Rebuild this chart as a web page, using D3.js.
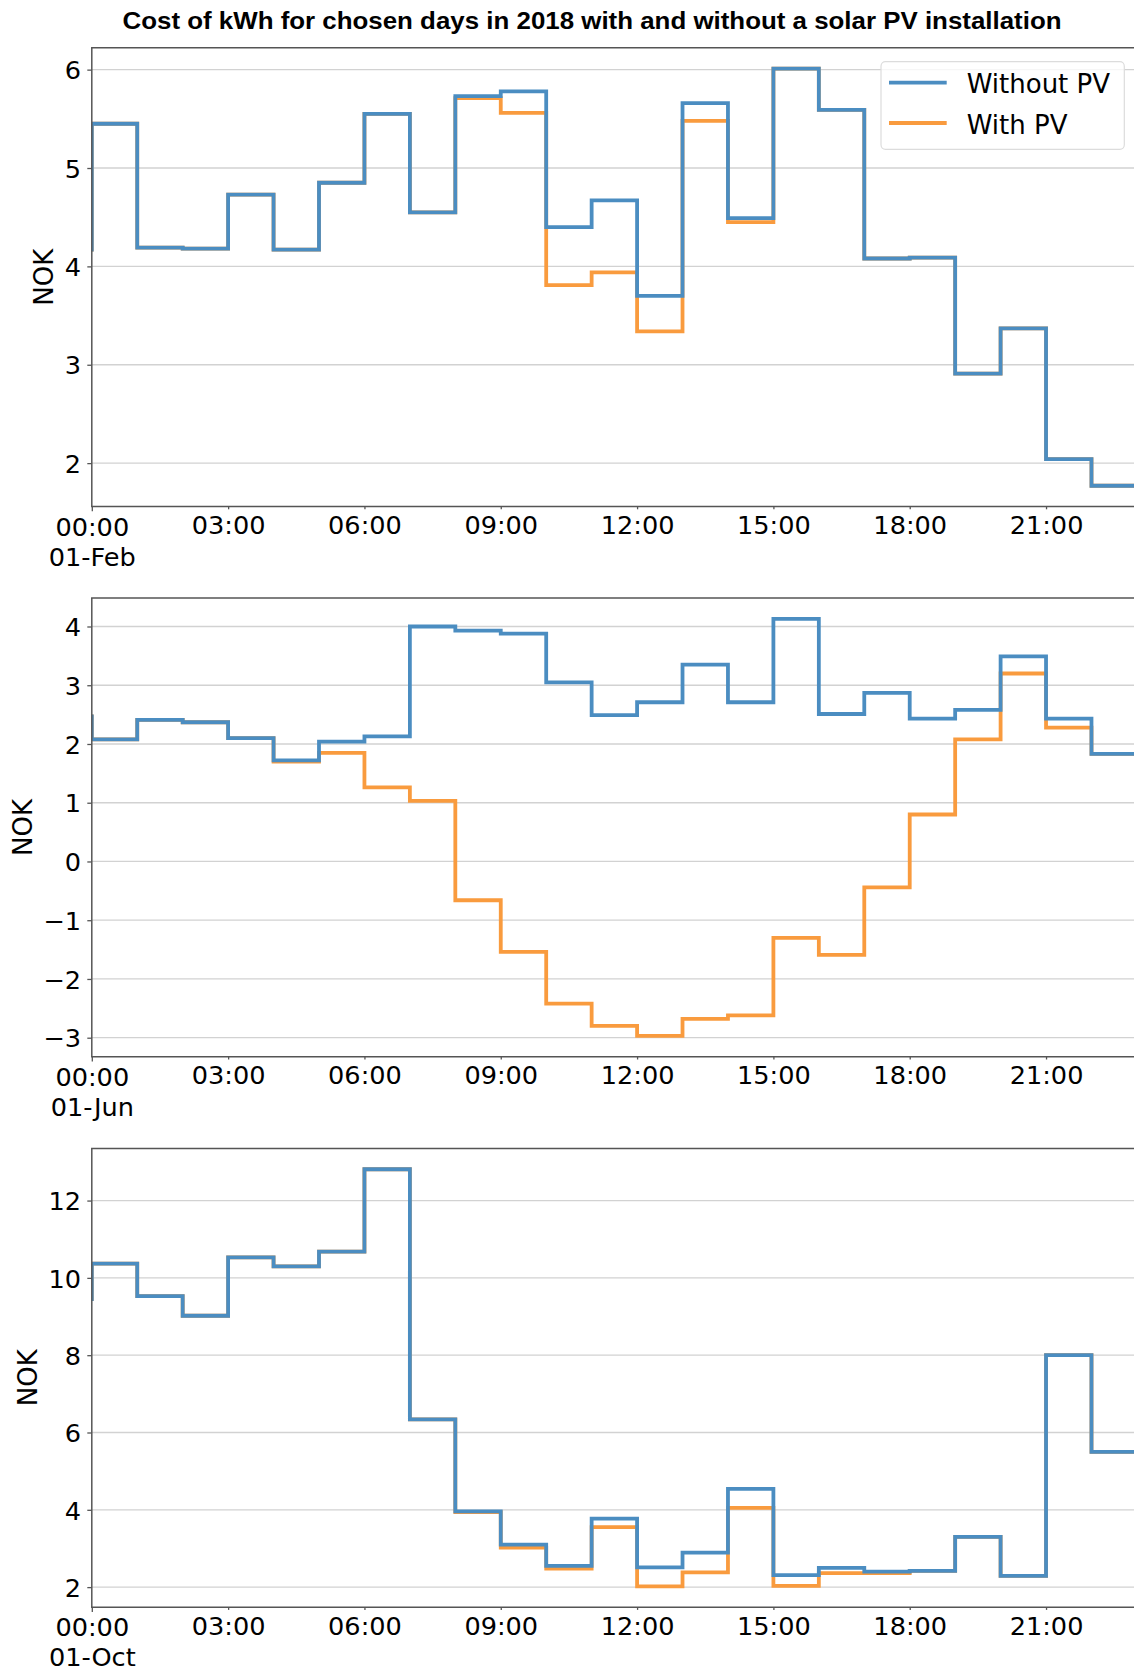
<!DOCTYPE html>
<html><head><meta charset="utf-8">
<script src="https://cdn.jsdelivr.net/npm/d3@7"></script>
<style>body{margin:0;background:#fff} svg{display:block}</style>
</head><body>
<svg id="chart" width="1134" height="1672"></svg>
<script>
// ---------- data ----------
const title = "Cost of kWh for chosen days in 2018 with and without a solar PV installation";
const seriesNames = ["Without PV", "With PV"];
const hours = [0,1,2,3,4,5,6,7,8,9,10,11,12,13,14,15,16,17,18,19,20,21,22,23];
const tickHours = [0,3,6,9,12,15,18,21];
const tickLabels = ["00:00","03:00","06:00","09:00","12:00","15:00","18:00","21:00"];
const dayLabels = ["01-Feb","01-Jun","01-Oct"];
const yLabel = "NOK";

const febWithout = [4.15,5.45,4.19,4.18,4.73,4.17,4.85,5.55,4.55,5.73,5.78,4.40,4.67,3.70,5.66,4.49,6.01,5.59,4.08,4.09,2.91,3.37,2.04,1.77];
const febWith    = [4.15,5.45,4.19,4.18,4.73,4.17,4.85,5.55,4.55,5.71,5.56,3.81,3.94,3.34,5.48,4.45,6.01,5.59,4.08,4.09,2.91,3.37,2.04,1.77];
const junWithout = [2.50,2.08,2.41,2.37,2.10,1.72,2.04,2.13,4.00,3.93,3.88,3.05,2.49,2.71,3.35,2.71,4.13,2.51,2.87,2.43,2.58,3.49,2.43,1.83];
const junWith    = [2.50,2.08,2.41,2.37,2.10,1.70,1.85,1.26,1.03,-0.66,-1.54,-2.42,-2.80,-2.97,-2.68,-2.62,-1.30,-1.59,-0.44,0.80,2.08,3.20,2.28,1.83];
const octWithout = [9.40,10.37,9.53,9.02,10.53,10.30,10.68,12.81,6.34,3.96,3.10,2.55,3.77,2.51,2.89,4.54,2.31,2.50,2.40,2.42,3.30,2.29,8.00,5.50];
const octWith    = [9.40,10.37,9.53,9.02,10.53,10.30,10.68,12.81,6.34,3.94,3.02,2.48,3.55,2.02,2.38,4.05,2.03,2.36,2.36,2.42,3.30,2.29,8.00,5.50];

const febYTicks = [2,3,4,5,6];
const junYTicks = [-3,-2,-1,0,1,2,3,4];
const octYTicks = [2,4,6,8,10,12];

// ---------- layout / style ----------
const svg = d3.select("#chart");
const FONT = "'DejaVu Sans', sans-serif";
const left = 91.8, hourPx = 45.44;
const right = left + (hours[hours.length-1]-hours[0]) * hourPx;
const tops = [47.8, 598, 1148.4], H = 458.8;
const colWithout = "#4b8dc1", colWith = "#f99b3e";
const spineCol = "#555";

svg.append("text").attr("x", 592).attr("y", 29).attr("text-anchor","middle")
  .attr("font-family","'Liberation Sans', Arial, sans-serif").attr("font-weight","bold")
  .attr("font-size", 24).attr("textLength", 939).attr("lengthAdjust", "spacingAndGlyphs")
  .attr("fill","#000").text(title);

const panels = [
  {day: dayLabels[0], without: febWithout, with: febWith, ticks: febYTicks},
  {day: dayLabels[1], without: junWithout, with: junWith, ticks: junYTicks},
  {day: dayLabels[2], without: octWithout, with: octWith, ticks: octYTicks}
];
const defs = svg.append("defs");

panels.forEach((p, i) => {
  const top = tops[i], bottom = top + H;
  const x = d3.scaleLinear().domain([hours[0], hours[hours.length-1]]).range([left, right]);
  const all = p.without.concat(p.with);
  const mn = d3.min(all), mx = d3.max(all), pad = (mx - mn) * 0.05;
  const y = d3.scaleLinear().domain([mn - pad, mx + pad]).range([bottom, top]);
  const g = svg.append("g");

  defs.append("clipPath").attr("id", "clip" + i).append("rect")
    .attr("x", left).attr("y", top).attr("width", right - left).attr("height", H);

  // grid
  g.append("g").selectAll("line").data(p.ticks).join("line")
    .attr("x1", left).attr("x2", right).attr("y1", d => y(d)).attr("y2", d => y(d))
    .attr("stroke", "#d2d2d2").attr("stroke-width", 1.3);

  // lines
  const line = d3.line().x((d, j) => x(hours[j])).y(d => y(d)).curve(d3.curveStepBefore);
  const lg = g.append("g").attr("clip-path", `url(#clip${i})`);
  lg.append("path").attr("d", line(p.with)).attr("fill","none")
    .attr("stroke", colWith).attr("stroke-width", 3.8);
  lg.append("path").attr("d", line(p.without)).attr("fill","none")
    .attr("stroke", colWithout).attr("stroke-width", 3.8);

  // y axis
  const ya = d3.axisLeft(y).tickValues(p.ticks).tickSize(4.5).tickPadding(6.3)
    .tickFormat(d => d < 0 ? "\u2212" + Math.abs(d) : String(d));
  const yg = g.append("g").attr("transform", `translate(${left},0)`).call(ya);
  yg.select(".domain").remove();
  yg.selectAll(".tick line").attr("stroke", spineCol).attr("stroke-width", 1.3);
  yg.selectAll(".tick text").attr("font-family", FONT).attr("font-size", 25.6)
    .attr("fill", "#000").attr("dy", "0.36em");

  // x axis
  const xa = d3.axisBottom(x).tickValues(tickHours).tickSize(2.7)
    .tickFormat((d, j) => tickLabels[j]);
  const xg = g.append("g").attr("transform", `translate(0,${bottom})`).call(xa);
  xg.select(".domain").remove();
  xg.selectAll(".tick line").attr("stroke", spineCol).attr("stroke-width", 1.3)
    .attr("y2", (d, j) => j === 0 ? 4.7 : 2.7);
  xg.selectAll(".tick text").attr("font-family", FONT).attr("font-size", 25.6)
    .attr("fill", "#000").attr("dy", 0).attr("y", (d, j) => j === 0 ? 29.3 : 27.6);
  xg.select(".tick").append("text").attr("font-family", FONT).attr("font-size", 25.6)
    .attr("fill", "#000").attr("text-anchor", "middle").attr("y", 59.2).text(p.day);

  // spines
  g.append("line").attr("x1", left).attr("x2", left).attr("y1", top).attr("y2", bottom)
    .attr("stroke", spineCol).attr("stroke-width", 1.5);
  g.append("line").attr("x1", left - 0.75).attr("x2", right).attr("y1", top).attr("y2", top)
    .attr("stroke", spineCol).attr("stroke-width", 1.5);
  g.append("line").attr("x1", left - 0.75).attr("x2", right).attr("y1", bottom).attr("y2", bottom)
    .attr("stroke", spineCol).attr("stroke-width", 1.5);

  // y label
  const bb = yg.node().getBBox();
  const lx = left + bb.x - 11.5;
  g.append("text").attr("transform", `translate(${lx},${(top + bottom) / 2}) rotate(-90)`)
    .attr("text-anchor", "middle").attr("font-family", FONT).attr("font-size", 26)
    .attr("fill", "#000").text(yLabel);

  // legend (first panel only)
  if (i === 0) {
    const lgd = svg.append("g");
    lgd.append("rect").attr("x", 881).attr("y", 61.7).attr("width", 243.3).attr("height", 87.6)
      .attr("rx", 4.5).attr("fill", "#fff").attr("fill-opacity", 0.8)
      .attr("stroke", "#dcdcdc").attr("stroke-width", 1.2);
    const items = [{name: seriesNames[0], c: colWithout}, {name: seriesNames[1], c: colWith}];
    items.forEach((it, k) => {
      const cy = 82.7 + k * 40.3;
      lgd.append("line").attr("x1", 889).attr("x2", 946.7).attr("y1", cy).attr("y2", cy)
        .attr("stroke", it.c).attr("stroke-width", 3.8);
      lgd.append("text").attr("x", 966.7).attr("y", cy + 10.5).attr("font-family", FONT)
        .attr("font-size", 26).attr("fill", "#000").text(it.name);
    });
  }
});
</script>
</body></html>
